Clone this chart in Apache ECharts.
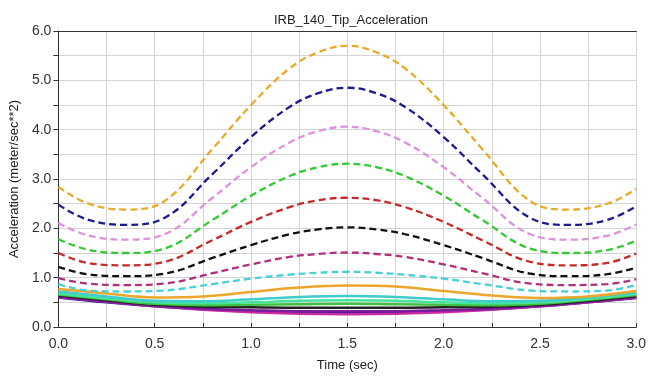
<!DOCTYPE html>
<html>
<head>
<meta charset="utf-8">
<script src="https://cdn.jsdelivr.net/npm/echarts@6/dist/echarts.min.js"></script>
<style>
html,body{margin:0;padding:0;background:#fff;}
#chart{width:649px;height:377px;}
</style>
</head>
<body>
<div id="chart"></div>
<script>
// Time samples
const tDashed = [0, 0.15, 0.35, 0.55, 0.8, 1.0, 1.2, 1.35, 1.5, 1.65, 1.8, 2.0, 2.2, 2.45, 2.65, 2.85, 3.0];
const tSolid = [0, 0.25, 0.5, 0.75, 1.0, 1.25, 1.5, 1.75, 2.0, 2.25, 2.5, 2.75, 3.0];

// Dashed series values
const dashOrange  = [2.84, 2.51, 2.38, 2.55, 3.61, 4.50, 5.24, 5.57, 5.70, 5.57, 5.24, 4.50, 3.61, 2.55, 2.38, 2.50, 2.80];
const dashNavy    = [2.48, 2.18, 2.07, 2.21, 3.10, 3.85, 4.46, 4.74, 4.85, 4.74, 4.46, 3.85, 3.10, 2.21, 2.07, 2.17, 2.45];
const dashViolet  = [2.11, 1.86, 1.77, 1.88, 2.62, 3.24, 3.74, 3.97, 4.06, 3.97, 3.74, 3.24, 2.62, 1.88, 1.77, 1.85, 2.08];
const dashGreen   = [1.78, 1.57, 1.50, 1.59, 2.17, 2.66, 3.06, 3.24, 3.31, 3.24, 3.06, 2.66, 2.17, 1.59, 1.50, 1.56, 1.75];
const dashRed     = [1.50, 1.30, 1.25, 1.32, 1.76, 2.13, 2.43, 2.57, 2.62, 2.57, 2.43, 2.13, 1.76, 1.32, 1.25, 1.30, 1.49];
const dashBlack   = [1.22, 1.07, 1.03, 1.08, 1.40, 1.66, 1.88, 1.98, 2.02, 1.98, 1.88, 1.66, 1.40, 1.08, 1.03, 1.07, 1.20];
const dashMagenta = [0.99, 0.88, 0.85, 0.88, 1.09, 1.27, 1.42, 1.48, 1.51, 1.48, 1.42, 1.27, 1.09, 0.88, 0.85, 0.87, 0.97];
const dashCyan    = [0.87, 0.74, 0.72, 0.74, 0.87, 0.98, 1.06, 1.10, 1.12, 1.10, 1.06, 0.98, 0.87, 0.74, 0.72, 0.74, 0.85];

// Solid series values
const solOrange  = [0.77, 0.68, 0.60, 0.62, 0.71, 0.80, 0.84, 0.82, 0.73, 0.64, 0.59, 0.62, 0.73];
const solCyan    = [0.72, 0.62, 0.53, 0.52, 0.56, 0.61, 0.63, 0.61, 0.56, 0.52, 0.53, 0.60, 0.70];
const solAqua    = [0.68, 0.58, 0.50, 0.48, 0.50, 0.53, 0.54, 0.53, 0.50, 0.48, 0.50, 0.57, 0.67];
const solGreen   = [0.66, 0.56, 0.47, 0.44, 0.45, 0.46, 0.47, 0.46, 0.45, 0.44, 0.47, 0.55, 0.65];
const solBlack   = [0.64, 0.54, 0.45, 0.41, 0.40, 0.39, 0.39, 0.39, 0.40, 0.41, 0.45, 0.53, 0.63];
const solPurple  = [0.62, 0.52, 0.43, 0.37, 0.34, 0.32, 0.32, 0.32, 0.34, 0.37, 0.43, 0.51, 0.61];
const solMagenta = [0.61, 0.51, 0.42, 0.35, 0.30, 0.27, 0.26, 0.27, 0.30, 0.35, 0.42, 0.50, 0.60];
const solNavy    = [0.60, 0.50, 0.42, 0.36, 0.32, 0.29, 0.28, 0.29, 0.32, 0.36, 0.42, 0.50, 0.59];

const xTickLabels = ['0.0', '0.5', '1.0', '1.5', '2.0', '2.5', '3.0'];
const yTickLabels = ['0.0', '1.0', '2.0', '3.0', '4.0', '5.0', '6.0'];

const dashed = [
  [dashOrange, '#e8ab2a'], [dashNavy, '#1c1c8e'], [dashViolet, '#dc92dc'],
  [dashGreen, '#34c834'], [dashRed, '#c42a2a'], [dashBlack, '#111111'],
  [dashMagenta, '#b0307e'], [dashCyan, '#48cfd8']
];
const solid = [
  [solOrange, '#eca62c'], [solCyan, '#40cccc'], [solAqua, '#44e49c'],
  [solGreen, '#40c040'], [solBlack, '#222222'], [solPurple, '#7a1c9c'],
  [solMagenta, '#cc2aa0'], [solNavy, '#1a1a98']
];

const series = [];
solid.slice().reverse().forEach(([vals, col]) => {
  series.push({
    type: 'line', smooth: 0.4, symbol: 'none', xAxisIndex: 0,
    data: tSolid.map((t, i) => [t, vals[i]]),
    lineStyle: { color: col, width: 2.5 }
  });
});
dashed.forEach(([vals, col]) => {
  series.push({
    type: 'line', smooth: 0.4, symbol: 'none', xAxisIndex: 0,
    data: tDashed.map((t, i) => [t, vals[i]]),
    lineStyle: { color: col, width: 2.3, type: [7, 4] }
  });
});

const font = 'Liberation Sans, Arial, sans-serif';
const chart = echarts.init(document.getElementById('chart'), null, { renderer: 'canvas' });
chart.setOption({
  animation: false,
  backgroundColor: '#ffffff',
  title: {
    text: 'IRB_140_Tip_Acceleration', left: 346, top: 9, textAlign: 'center',
    textStyle: { fontFamily: font, fontSize: 13, fontWeight: 'normal', color: '#222' }
  },
  grid: { left: 53, right: 10, top: 31, bottom: 44 },
  xAxis: [{
    type: 'value', min: 0, max: 3, interval: 0.25,
    name: 'Time (sec)', nameLocation: 'middle', nameGap: 32,
    nameTextStyle: { fontFamily: font, fontSize: 13, color: '#222' },
    axisLine: { show: true, lineStyle: { color: '#333', width: 1 } },
    axisTick: { show: true, inside: true, length: 4, lineStyle: { color: '#333' } },
    axisLabel: {
      fontFamily: font, fontSize: 14, color: '#333', margin: 10,
      formatter: v => { const i = Math.round(v / 0.5); return Math.abs(v - i * 0.5) < 1e-6 ? xTickLabels[i] : ''; }
    },
    splitLine: { show: true, lineStyle: { color: '#d4d4d4', width: 1 } }
  }, {
    type: 'value', min: 0, max: 3, position: 'top',
    axisLine: { show: true, lineStyle: { color: '#333', width: 1.2 } },
    axisTick: { show: false }, axisLabel: { show: false }, splitLine: { show: false }
  }],
  yAxis: {
    type: 'value', min: 0, max: 6, interval: 0.5,
    name: 'Acceleration (meter/sec**2)', nameLocation: 'middle', nameGap: 32, nameRotate: 90,
    nameTextStyle: { fontFamily: font, fontSize: 13, color: '#222' },
    axisLine: { show: true, lineStyle: { color: '#333', width: 1 } },
    axisTick: { show: true, length: 5, lineStyle: { color: '#333' } },
    axisLabel: {
      fontFamily: font, fontSize: 14, color: '#333', margin: 7,
      formatter: v => { const i = Math.round(v); return Math.abs(v - i) < 1e-6 ? yTickLabels[i] : ''; }
    },
    splitLine: { show: true, lineStyle: { color: '#d4d4d4', width: 1 } }
  },
  series: series
});
</script>
</body>
</html>
